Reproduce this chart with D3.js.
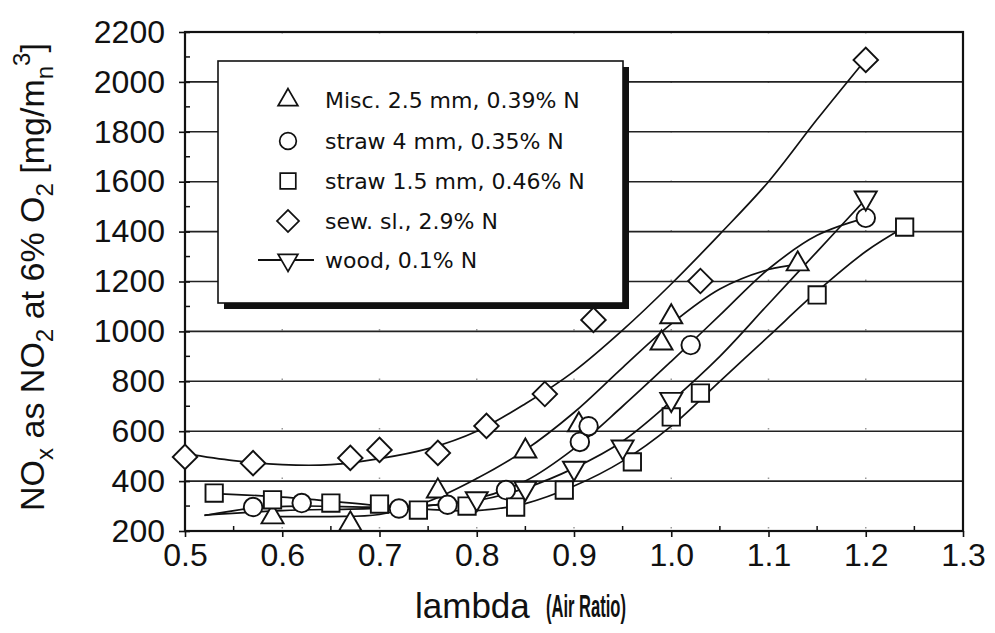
<!DOCTYPE html>
<html>
<head>
<meta charset="utf-8">
<script src="https://d3js.org/d3.v7.min.js"></script>
<style>
  body { margin: 0; background: #fff; }
  text { font-family: 'Liberation Sans', Arial, sans-serif; fill: #111; }
  .legend text { font-family: 'DejaVu Sans', Verdana, sans-serif; }
</style>
</head>
<body>
<div id="chart"></div>
<script>
// measured points [lambda, NOx mg/m3]
var miscPts   = [[0.59,256],[0.67,228],[0.76,360],[0.85,520],[0.905,625],[0.99,953],[1.0,1058],[1.13,1270]];
var straw4Pts = [[0.57,296],[0.62,312],[0.72,290],[0.77,305],[0.83,364],[0.906,557],[0.915,620],[1.02,945],[1.2,1455]];
var straw15Pts = [[0.53,352],[0.59,325],[0.65,312],[0.70,308],[0.74,284],[0.79,300],[0.84,296],[0.89,364],[0.96,477],[1.0,657],[1.03,753],[1.15,1146],[1.24,1418]];
var sludgePts = [[0.5,497],[0.57,472],[0.67,493],[0.70,525],[0.76,513],[0.81,621],[0.87,749],[0.92,1046],[1.03,1202],[1.2,2088]];
var woodPts   = [[0.80,330],[0.85,372],[0.90,452],[0.95,537],[1.0,728],[1.2,1535]];

// fitted curves
var miscFit   = [[0.59,258],[0.65,258],[0.7,266],[0.75,318],[0.8,410],[0.85,525],[0.9,675],[0.95,855],[1.0,1030],[1.05,1170],[1.1,1248],[1.13,1268]];
var straw4Fit = [[0.52,262],[0.57,292],[0.62,300],[0.7,296],[0.75,302],[0.8,330],[0.85,400],[0.9,530],[0.95,700],[1.0,880],[1.05,1065],[1.1,1250],[1.15,1385],[1.2,1455]];
var straw15Fit = [[0.53,350],[0.6,336],[0.7,302],[0.75,287],[0.8,282],[0.85,310],[0.9,380],[0.95,480],[1.0,620],[1.05,800],[1.1,980],[1.15,1160],[1.2,1320],[1.24,1418]];
var sludgeFit = [[0.5,510],[0.55,482],[0.6,466],[0.65,466],[0.7,490],[0.75,530],[0.8,600],[0.85,710],[0.9,840],[0.95,1005],[1.0,1190],[1.05,1390],[1.1,1600],[1.15,1850],[1.2,2090]];
var woodFit   = [[0.52,264],[0.6,282],[0.7,292],[0.8,322],[0.85,372],[0.9,452],[0.95,560],[1.0,720],[1.05,900],[1.1,1110],[1.15,1320],[1.2,1530]];

var xTicks = [0.5,0.6,0.7,0.8,0.9,1.0,1.1,1.2,1.3];
var yTicks = [200,400,600,800,1000,1200,1400,1600,1800,2000,2200];
var legendLabels = ["Misc. 2.5 mm, 0.39% N","straw 4 mm, 0.35% N","straw 1.5 mm, 0.46% N","sew. sl., 2.9% N","wood, 0.1% N"];

var margin = { top: 32, right: 32, bottom: 102, left: 185 };
var width = 995 - margin.left - margin.right;
var height = 633 - margin.top - margin.bottom;

var svg = d3.select("#chart").append("svg")
  .attr("width", 995)
  .attr("height", 633);

var g = svg.append("g")
  .attr("transform", "translate(" + margin.left + "," + margin.top + ")");

var x = d3.scaleLinear().domain([0.5, 1.3]).range([0, width]);
var y = d3.scaleLinear().domain([200, 2200]).range([height, 0]);

// faint dotted verticals
g.append("g").selectAll("line")
  .data(xTicks.slice(1, -1))
  .enter().append("line")
  .attr("x1", function (d) { return x(d); })
  .attr("x2", function (d) { return x(d); })
  .attr("y1", 0).attr("y2", height)
  .attr("stroke", "#999")
  .attr("stroke-width", 1.5)
  .attr("stroke-dasharray", "1.5,48");

// horizontal grid
g.append("g").selectAll("line")
  .data(yTicks.slice(1, -1))
  .enter().append("line")
  .attr("x1", 0).attr("x2", width)
  .attr("y1", function (d) { return y(d); })
  .attr("y2", function (d) { return y(d); })
  .attr("stroke", "#222")
  .attr("stroke-width", 1.6);

// axes
var xAxis = g.append("g")
  .attr("transform", "translate(0," + height + ")")
  .call(d3.axisBottom(x).tickValues(xTicks).tickSize(6).tickPadding(6).tickFormat(d3.format(".1f")));
var yAxis = g.append("g")
  .call(d3.axisLeft(y).tickValues(yTicks).tickSize(6).tickPadding(14).tickFormat(d3.format("d")));

[xAxis, yAxis].forEach(function (a) {
  a.select(".domain").remove();
  a.selectAll("line").attr("stroke", "#111").attr("stroke-width", 1.6);
  a.selectAll("text").attr("font-size", 32).attr("fill", "#111")
    .style("font-family", "'Liberation Sans', Arial, sans-serif");
});
yAxis.selectAll(".tick line").attr("x2", -6).attr("x1", 5);

// minor ticks
g.append("g").selectAll("line")
  .data(d3.range(0, 8).map(function (i) { return 0.55 + i * 0.1; }))
  .enter().append("line")
  .attr("x1", function (d) { return x(d); }).attr("x2", function (d) { return x(d); })
  .attr("y1", height).attr("y2", height - 5)
  .attr("stroke", "#111").attr("stroke-width", 1.5);
g.append("g").selectAll("line")
  .data(d3.range(0, 10).map(function (i) { return 300 + i * 200; }))
  .enter().append("line")
  .attr("x1", 0).attr("x2", 5)
  .attr("y1", function (d) { return y(d); }).attr("y2", function (d) { return y(d); })
  .attr("stroke", "#111").attr("stroke-width", 1.5);

// frame
g.append("rect")
  .attr("x", 0).attr("y", 0)
  .attr("width", width).attr("height", height)
  .attr("fill", "none")
  .attr("stroke", "#111")
  .attr("stroke-width", 2.2);

// fit curves
var line = d3.line()
  .x(function (d) { return x(d[0]); })
  .y(function (d) { return y(d[1]); })
  .curve(d3.curveCatmullRom);

var fits = [miscFit, straw4Fit, straw15Fit, sludgeFit, woodFit];
g.append("g").selectAll("path")
  .data(fits)
  .enter().append("path")
  .attr("d", line)
  .attr("fill", "none")
  .attr("stroke", "#111")
  .attr("stroke-width", 1.7);

// markers
var symTri = d3.symbol().type(d3.symbolTriangle).size(210);
var symCircle = d3.symbol().type(d3.symbolCircle).size(270);
var symSquare = d3.symbol().type(d3.symbolSquare).size(300);
var series = [
  { pts: miscPts, path: symTri(), rot: 0 },
  { pts: straw4Pts, path: symCircle(), rot: 0 },
  { pts: straw15Pts, path: symSquare(), rot: 0 },
  { pts: sludgePts, path: symSquare(), rot: 45 },
  { pts: woodPts, path: symTri(), rot: 180 }
];

series.forEach(function (s) {
  g.append("g").selectAll("path")
    .data(s.pts)
    .enter().append("path")
    .attr("d", s.path)
    .attr("transform", function (d) {
      return "translate(" + x(d[0]) + "," + y(d[1]) + ") rotate(" + s.rot + ")";
    })
    .attr("fill", "#fff")
    .attr("stroke", "#111")
    .attr("stroke-width", 1.9);
});

// legend
var lg = svg.append("g").attr("class", "legend");
lg.append("rect")
  .attr("x", 224).attr("y", 67)
  .attr("width", 405).attr("height", 242)
  .attr("fill", "#111");
lg.append("rect")
  .attr("x", 218).attr("y", 61)
  .attr("width", 405).attr("height", 242)
  .attr("fill", "#fff")
  .attr("stroke", "#111")
  .attr("stroke-width", 1.6);

var rowY = [100, 141, 181, 221, 260];
lg.append("line")
  .attr("x1", 258).attr("x2", 314)
  .attr("y1", rowY[4]).attr("y2", rowY[4])
  .attr("stroke", "#111").attr("stroke-width", 1.8);

series.forEach(function (s, i) {
  lg.append("path")
    .attr("d", s.path)
    .attr("transform", "translate(288," + rowY[i] + ") rotate(" + s.rot + ") scale(0.9)")
    .attr("fill", "#fff")
    .attr("stroke", "#111")
    .attr("stroke-width", 1.9);
  lg.append("text")
    .attr("x", 325)
    .attr("y", rowY[i])
    .attr("dy", "0.36em")
    .attr("font-size", 22)
    .text(legendLabels[i]);
});

// axis titles
svg.append("text")
  .attr("x", 415)
  .attr("y", 618)
  .attr("font-size", 35)
  .text("lambda");
svg.append("text")
  .attr("x", 546)
  .attr("y", 617)
  .attr("font-size", 31)
  .attr("font-weight", "bold")
  .attr("textLength", 80)
  .attr("lengthAdjust", "spacingAndGlyphs")
  .text("(Air Ratio)");

var yt = svg.append("text")
  .attr("transform", "translate(44,277) rotate(-90)")
  .attr("text-anchor", "middle")
  .attr("font-size", 34);
yt.append("tspan").text("NO");
yt.append("tspan").attr("font-size", 24).attr("dy", 9).text("x");
yt.append("tspan").attr("dy", -9).text(" as NO");
yt.append("tspan").attr("font-size", 24).attr("dy", 9).text("2");
yt.append("tspan").attr("dy", -9).text(" at 6% O");
yt.append("tspan").attr("font-size", 24).attr("dy", 9).text("2");
yt.append("tspan").attr("dy", -9).text(" [mg/m");
yt.append("tspan").attr("font-size", 24).attr("dy", 9).text("n");
yt.append("tspan").attr("font-size", 24).attr("dy", -23).text("3");
yt.append("tspan").attr("dy", 14).text("]");
</script>
</body>
</html>
